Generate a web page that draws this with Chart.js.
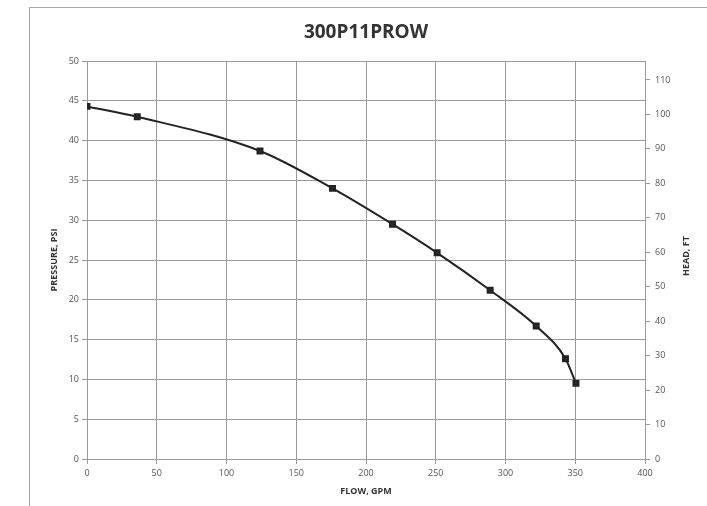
<!doctype html>
<html lang="en">
<head>
  <meta charset="utf-8">
  <title>300P11PROW</title>
  <style>
    html,body{
      width:100%;
      height:100%;
      margin:0;
      padding:0;overflow:hidden;
      background:#fff;
    }
    .frame{
      position:absolute;
      left:29px; top:7px;
      width:700px; height:520px;
      border:1px solid #a8a8a8;
      box-sizing:border-box;
    }
    .chart-p{
      position:absolute;
      left:0; top:0;
      width:707px; height:506px;
    }
  </style>
</head>
<body>
  <div class='frame'></div>
  <div class='chart-p'>
    <canvas id="chart0" width="707" height="506"></canvas>
  </div>

  <script src='https://cdn.jsdelivr.net/npm/chart.js@4/dist/chart.umd.min.js'></script>
  <script>
    // pump curve
    var flowGpm = [0, 36, 124, 176, 219, 251, 289, 322, 343, 350.5]
    var pressurePsi = [44.3, 43.0, 38.7, 34.0, 29.5, 25.9, 21.2, 16.7, 12.6, 9.5]
    var chartTitle = '300P11PROW'
    var xTitle = 'FLOW, GPM'
    var yTitle = 'PRESSURE, PSI'
    var y2Title = 'HEAD, FT'
    var psiToFt = 2.31

    var pts = []
    for (var i = 0; i < flowGpm.length; i++){
      pts.push({x: flowGpm[i], y: pressurePsi[i]})
    }

    var tickFont = {family: 'Open Sans', size: 9}
    var titleFont = {family: 'Open Sans', size: 9, weight: 'bold'}
    var gridCol = '#9a9a9a'

    // chart title centred over the plot area, and the right axis title
    // turned the same way as the left one (chart.js turns it the other way)
    var titlePlugin = {
      id: 'plotTitle',
      afterDraw: function(chart){
        var c = chart.ctx, a = chart.chartArea
        c.save()
        c.font = 'bold 19px "Open Sans"'
        c.fillStyle = '#333'
        c.textAlign = 'center'
        c.textBaseline = 'middle'
        c.fillText(chartTitle, (a.left + a.right) / 2, 33)
        c.font = 'bold 9px "Open Sans"'
        c.translate(686, (a.top + a.bottom) / 2 - 4)
        c.rotate(-Math.PI / 2)
        c.fillText(y2Title, 0, 0)
        c.restore()
      }
    }

    var ctx = document.getElementById('chart0').getContext('2d')
    var myChart = new Chart(ctx, {
      type: 'scatter',
      data: {
        datasets: [{
          data: pts,
          showLine: true,
          borderColor: '#222',
          borderWidth: 2,
          backgroundColor: '#2a2a2a',
          pointStyle: 'rect',
          pointRadius: 3.5,
          cubicInterpolationMode: 'monotone'
        }]
      },
      plugins: [titlePlugin],
      options: {
        responsive: false,
        animation: false,
        layout: {padding: {top: 61}},
        plugins: {legend: {display: false}, tooltip: {enabled: false}},
        scales: {
          x: {
            type: 'linear', min: 0, max: 400,
            ticks: {stepSize: 50, font: tickFont, color: '#555', padding: 4},
            grid: {color: gridCol, tickLength: 5},
            border: {color: gridCol},
            title: {display: true, text: xTitle, font: titleFont, color: '#333', padding: {top: 0, bottom: 9}},
            afterFit: function(s){ s.height = 47 }
          },
          y: {
            type: 'linear', position: 'left', min: 0, max: 50,
            ticks: {stepSize: 5, font: tickFont, color: '#555', padding: 3},
            grid: {color: gridCol, tickLength: 5},
            border: {color: gridCol},
            title: {display: true, text: yTitle, font: titleFont, color: '#333', padding: {top: 49, bottom: 0}},
            afterFit: function(s){ s.width = 87 }
          },
          y2: {
            type: 'linear', position: 'right', min: 0, max: 50 * psiToFt,
            ticks: {stepSize: 10, includeBounds: false, font: tickFont, color: '#555', padding: 5},
            grid: {drawOnChartArea: false, color: gridCol, tickLength: 5},
            border: {color: gridCol},
            afterFit: function(s){ s.width = 62 }
          }
        }
      }
    })
  </script>
</body>
</html>
